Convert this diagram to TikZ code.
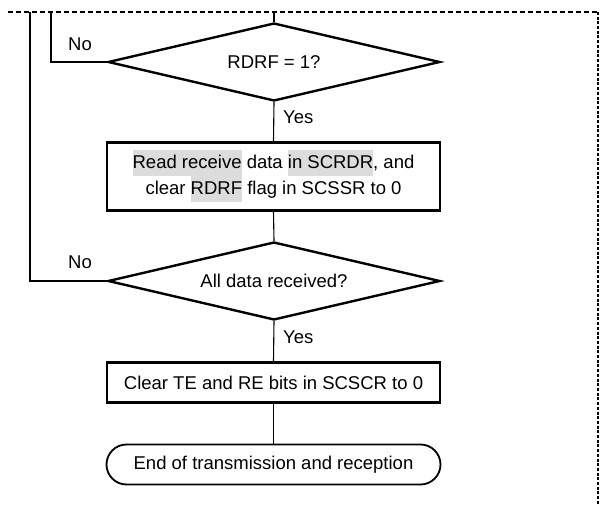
\documentclass[tikz,border=0pt]{standalone}
\usepackage{fontspec}
\setmainfont{Liberation Sans}
\usetikzlibrary{shapes.geometric,shapes.misc}
\definecolor{hlgray}{HTML}{DCDCDC}
\newcommand{\hlbox}[1]{{\setlength{\fboxsep}{0pt}\colorbox{hlgray}{\strut #1}}}
\begin{document}
\begin{tikzpicture}[x=1pt,y=-1pt,
  every node/.style={font=\fontsize{18.5}{26}\selectfont},
  conn/.style={line width=1.1pt},
  procbox/.style={draw,line width=2.4pt,minimum width=333pt,inner sep=0pt,align=center},
  decision/.style={draw,diamond,aspect=4.25,line width=2.4pt,minimum width=332pt,minimum height=78pt,inner sep=0pt},
  termbox/.style={draw,rounded rectangle,line width=1.8pt,minimum width=334pt,minimum height=40pt,inner sep=0pt},
  lbl/.style={inner sep=0pt}]
\useasboundingbox (0,0) rectangle (600,505);
% dashed frame
\draw[line width=2pt,dash pattern=on 5pt off 3pt] (8,12) -- (598,12);
\draw[line width=2pt,dash pattern=on 3pt off 1.7pt] (598,12) -- (598,505);
% nodes
\node[decision] (d1) at (274,62) {RDRF = 1?};
\node[procbox,minimum height=68pt] (b1) at (273.5,176.5) {\hlbox{Read receive} data \hlbox{in SCRDR}, and\\clear \hlbox{RDRF} flag in SCSSR to 0};
\node[decision] (d2) at (274,281) {All data received?};
\node[procbox,minimum height=40pt] (b2) at (273.5,382.5) {Clear TE and RE bits in SCSCR to 0};
\node[termbox] (t) at (273.5,464.5) {End of transmission and reception};
% coordinates
\coordinate (top1) at (274,12);
\coordinate (l1) at (51,12);
\coordinate (l2) at (30,12);
% connectors
\draw[conn] (top1) -- (d1.north);
\draw[conn] (d1.south) -- (b1.north);
\draw[conn] (b1.south) -- (d2.north);
\draw[conn] (d2.south) -- (b2.north);
\draw[conn] (b2.south) -- (t.north);
\draw[conn] (d1.west) -| (l1);
\draw[conn] (d2.west) -| (l2);
% labels
\node[lbl] (no1) at (80,44) {No};
\node[lbl] (no2) at (80,262) {No};
\node[lbl,anchor=west] (yes1) at (283,117) {Yes};
\node[lbl,anchor=west] (yes2) at (283,337) {Yes};
\end{tikzpicture}
\end{document}
